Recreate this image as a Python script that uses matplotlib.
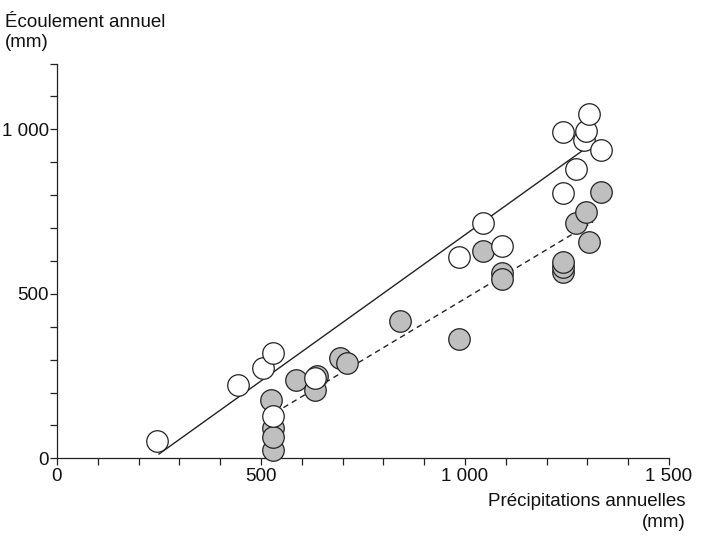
import matplotlib
matplotlib.use("Agg")
import matplotlib.pyplot as plt
from matplotlib.ticker import FixedLocator, MultipleLocator

plt.rcParams['font.family'] = ['Liberation Sans', 'DejaVu Sans']

# Open circles (white)
white_x = [1292, 244, 444, 504, 530, 530, 632, 986, 1043, 1090, 1241, 1296, 1305, 1333, 1272, 1241]
white_y = [967, 53, 223, 275, 319, 129, 245, 611, 716, 646, 993, 996, 1046, 937, 878, 807]

# Filled circles (grey)
grey_x = [529, 529, 529, 525, 586, 638, 632, 694, 710, 841, 986, 1043, 1090, 1090,
          1241, 1241, 1241, 1305, 1272, 1297, 1333]
grey_y = [25, 91, 64, 177, 238, 250, 208, 304, 291, 418, 362, 631, 564, 545,
          567, 582, 598, 658, 714, 750, 810]

# Fitted lines (end points)
solid_x = [250, 1290]
solid_y = [13, 937]
dashed_x = [555, 1314]
dashed_y = [154, 719]

xticks = [0, 500, 1000, 1500]
xticklabels = ["0", "500", "1 000", "1 500"]
yticks = [0, 500, 1000]
yticklabels = ["0", "500", "1 000"]

W, H = 702, 542
fig = plt.figure(figsize=(W / 100, H / 100), dpi=100)
x0, x1 = 57, 669
y0, y1 = 458.3, 63.5
ax = fig.add_axes([x0 / W, 1 - y0 / H, (x1 - x0) / W, (y0 - y1) / H])
ax.set_xlim(0, 1500)
ax.set_ylim(0, 1200)
for s in ['top', 'right']:
    ax.spines[s].set_visible(False)
for s in ['left', 'bottom']:
    ax.spines[s].set_linewidth(0.9)
    ax.spines[s].set_color('#222222')

ax.plot(solid_x, solid_y, color='#222222', lw=1.0, zorder=2)
ax.plot(dashed_x, dashed_y, color='#222222', lw=1.0, dashes=(4, 3), zorder=2)

ax.scatter(grey_x, grey_y, s=240, facecolor='#bfbfbf', edgecolor='#222222',
           linewidths=0.9, zorder=3, clip_on=False)
ax.scatter(white_x, white_y, s=240, facecolor='white', edgecolor='#222222',
           linewidths=0.9, zorder=4, clip_on=False)

ax.xaxis.set_major_locator(FixedLocator(xticks))
ax.set_xticklabels(xticklabels)
ax.yaxis.set_major_locator(FixedLocator(yticks))
ax.set_yticklabels(yticklabels)
ax.xaxis.set_minor_locator(MultipleLocator(100))
ax.yaxis.set_minor_locator(MultipleLocator(100))
ax.tick_params(which='both', direction='out', length=5, width=0.9, color='#222222')
ax.tick_params(axis='x', which='major', labelsize=13.5, pad=2, labelcolor='#111111')
ax.tick_params(axis='y', which='major', labelsize=13.5, pad=1, labelcolor='#111111')

fig.text(5 / W, 1 - 27 / H, "Écoulement annuel", ha='left', va='baseline',
         fontsize=13.5, color='#111111')
fig.text(5 / W, 1 - 47 / H, "(mm)", ha='left', va='baseline',
         fontsize=13.5, color='#111111')
fig.text(686 / W, 1 - 506 / H, "Précipitations annuelles", ha='right', va='baseline',
         fontsize=13.5, color='#111111')
fig.text(686 / W, 1 - 527 / H, "(mm)", ha='right', va='baseline',
         fontsize=13.5, color='#111111')

fig.savefig("out.png", dpi=100)
